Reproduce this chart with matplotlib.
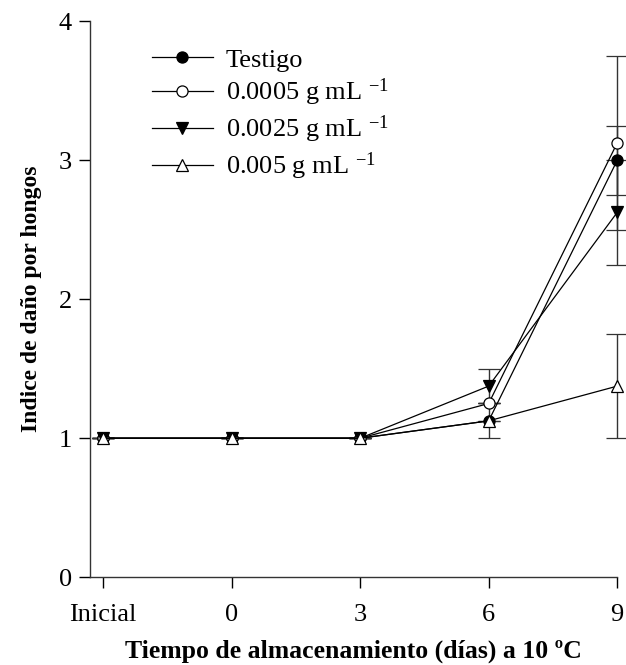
import matplotlib
matplotlib.use('Agg')
import matplotlib.pyplot as plt
import numpy as np

plt.rcParams['font.family'] = ['Liberation Serif', 'DejaVu Serif']
plt.rcParams['mathtext.fontset'] = 'custom'
plt.rcParams['mathtext.rm'] = 'Liberation Serif'
plt.rcParams['mathtext.default'] = 'regular'

# Data
tick_labels = ['Inicial', '0', '3', '6', '9']
testigo = [1.0, 1.0, 1.0, 1.125, 3.0]
testigo_err = [0, 0, 0, 0, 0.25]
c0005 = [1.0, 1.0, 1.0, 1.25, 3.125]
c0005_err = [0, 0, 0, 0, 0.625]
c0025 = [1.0, 1.0, 1.0, 1.375, 2.625]
c0025_err = [0, 0, 0, 0.125, 0.375]
c005 = [1.0, 1.0, 1.0, 1.125, 1.375]
c005_err = [0, 0, 0, 0.125, 0.375]

x = np.arange(len(tick_labels))

fig = plt.figure(figsize=(6.26, 6.65), dpi=100)
ax = fig.add_axes([0.144, 0.132, 0.842, 0.836])

series = [
    (testigo, testigo_err, 'o', 'black', 'Testigo'),
    (c0005, c0005_err, 'o', 'white', r'0.0005 g mL $^{-1}$'),
    (c0025, c0025_err, 'v', 'black', r'0.0025 g mL $^{-1}$'),
    (c005, c005_err, '^', 'white', r'0.005 g mL $^{-1}$'),
]
for vals, err, m, fc, lab in series:
    ax.errorbar(x, vals, yerr=err, marker=m, markersize=8, markerfacecolor=fc,
                markeredgecolor='black', markeredgewidth=0.9, color='black',
                linewidth=0.9, ecolor='#333333', elinewidth=1.0, capsize=8,
                capthick=1.0, label=lab, clip_on=False)

ax.set_xlim(-0.1, 4)
ax.set_ylim(0, 4)
ax.set_xticks(x)
ax.set_xticklabels(tick_labels)
ax.set_yticks([0, 1, 2, 3, 4])
for s in ['top', 'right']:
    ax.spines[s].set_visible(False)
for s in ['left', 'bottom']:
    ax.spines[s].set_linewidth(1.0)
    ax.spines[s].set_color('#333333')
ax.tick_params(direction='out', length=8, width=1.0, labelsize=19, pad=5)
ax.tick_params(axis='x', pad=11)

ax.set_xlabel('Tiempo de almacenamiento (días) a 10 ºC', fontsize=18.5,
              fontweight='bold', labelpad=10)
ax.set_ylabel('Indice de daño por hongos', fontsize=17, fontweight='bold',
              labelpad=12)

handles, labels = ax.get_legend_handles_labels()
handles = [h[0] for h in handles]
ax.legend(handles, labels, loc='upper left', bbox_to_anchor=(0.087, 0.98),
          frameon=False, fontsize=19, handlelength=2.3, labelspacing=0.2,
          handletextpad=0.5, borderaxespad=0.2)

fig.savefig('out.png', dpi=100)
